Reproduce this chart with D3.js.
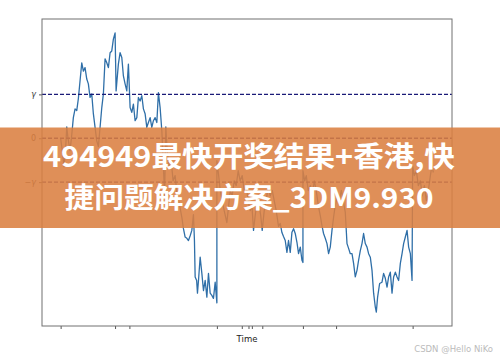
<!DOCTYPE html>
<html>
<head>
<meta charset="utf-8">
<script src="https://cdn.jsdelivr.net/npm/d3@7"></script>
<style>
  html, body { margin: 0; padding: 0; background: #fff; }
  svg { display: block; }
</style>
</head>
<body>
<div id="chart"></div>
<script>
// path of the process (time 0..100), vertical jumps repeat a time value
const times = [0, 0.51, 0.91, 1.32, 1.64, 1.99, 2.52, 2.93, 3.41, 3.87, 4.32, 4.75, 5.21, 5.67, 6.10, 6.55, 7.01, 7.44, 7.89, 8.35,
  8.78, 9.24, 9.69, 10.12, 10.58, 11.04, 11.47, 11.92, 12.38, 12.81, 13.27, 13.72, 14.15, 14.61, 14.88, 15.49, 15.95, 16.41, 16.84, 17.29,
  17.75, 18.18, 18.64, 19.09, 19.52, 19.98, 20.44, 20.86, 21.32, 21.78, 22.21, 22.66, 23.12, 23.55, 24.01, 24.46, 24.89, 25.35, 25.81, 26.23,
  26.69, 27.15, 27.50, 27.90, 28.22, 28.57, 29.11, 29.65, 30.18, 30.72, 31.26, 31.93, 32.52, 32.95, 33.40, 33.86, 34.29, 34.75, 35.20, 35.63,
  35.90, 36.09, 36.49, 36.71, 37.03, 37.43, 37.89, 38.32, 38.78, 39.23, 39.66, 40.12, 40.57, 41.00, 41.46, 41.92, 41.92, 42.40, 42.81, 43.34,
  43.88, 44.60, 45.09, 45.49, 46.03, 46.56, 47.10, 47.64, 48.17, 48.71, 49.25, 49.79, 50.32, 50.86, 51.32, 51.75, 52.20, 52.74, 53.28, 53.68,
  54.08, 54.62, 55.16, 55.69, 56.23, 56.77, 57.30, 57.84, 58.46, 58.92, 59.37, 59.80, 60.26, 60.71, 61.14, 61.60, 62.06, 62.49, 62.94, 63.40,
  63.83, 64.29, 64.74, 65.01, 65.01, 65.49, 65.90, 66.43, 66.97, 67.51, 68.05, 68.58, 69.12, 69.66, 70.11, 70.54, 71.00, 71.46, 71.89, 72.34,
  72.80, 73.23, 73.68, 74.22, 74.76, 75.30, 75.83, 76.37, 76.83, 77.26, 77.71, 78.17, 78.60, 79.05, 79.51, 79.94, 80.40, 80.85, 81.28, 81.74,
  82.20, 82.63, 83.08, 83.54, 83.97, 84.43, 84.70, 85.04, 85.58, 86.22, 86.65, 87.11, 87.57, 88.00, 88.45, 88.91, 89.34, 89.80, 90.25, 90.68,
  91.14, 91.60, 92.02, 92.48, 92.94, 93.37, 93.83, 94.28, 94.44, 94.90, 95.44, 95.97, 96.51, 97.05, 97.58, 98.12, 98.66, 99.20, 99.60, 100];
const values = [0, -0.33, -0.65, -0.28, 0.26, -0.01, -0.28, 0.03, 0.47, 0.67, 0.63, 0.90, 1.31, 1.72, 1.53, 1.61, 1.35, 1.24, 0.93, 1.01,
  0.56, 0.25, -0.06, -0.19, 0.25, 0.70, 1.01, 1.81, 1.72, 1.61, 1.95, 1.99, 2.26, 2.40, 1.08, 1.69, 1.95, 1.84, 1.42, 1.24,
  1.08, 1.69, 0.70, 0.59, 0.78, 0.40, 0.47, 0.93, 0.85, 0.97, 0.67, 0.56, 0.25, 0.36, 0.47, 0.25, 0.40, 0.47, 0.36, 1.04,
  0.70, 0.17, -0.51, -1.31, 0.26, -0.28, -0.63, -0.51, -0.97, -0.85, -1.31, -1.53, -1.80, -2.06, -2.25, -2.28, -2.33, -2.22, -2.10, -1.74,
  -2.33, -3.16, -3.24, -3.53, -3.19, -2.71, -3.08, -3.47, -3.24, -3.62, -3.08, -3.53, -3.58, -3.65, -3.28, -3.75, -0.51, -0.85, -1.19, -1.42,
  -1.65, -1.92, -1.53, -1.19, -1.31, -0.97, -1.08, -0.74, -0.97, -0.85, -1.19, -1.08, -1.42, -1.65, -1.53, -2.10, -1.76, -1.42, -1.53, -1.76,
  -2.10, -1.65, -1.42, -1.08, -1.31, -1.19, -1.42, -1.65, -2.01, -1.94, -2.15, -2.24, -2.33, -2.60, -2.33, -2.60, -2.14, -2.06, -2.17, -2.37,
  -2.63, -2.48, -2.78, -2.83, -0.74, -0.97, -0.85, -1.19, -1.08, -1.31, -0.97, -1.19, -1.53, -1.76, -1.99, -2.17, -2.28, -2.40, -2.63, -2.48,
  -2.10, -1.80, -1.53, -1.31, -1.42, -1.19, -1.42, -1.69, -2.40, -2.51, -2.63, -2.63, -2.85, -3.16, -3.01, -2.78, -2.56, -2.40, -2.17, -2.40,
  -2.48, -2.63, -2.71, -3.01, -3.53, -3.85, -3.96, -3.62, -3.31, -3.28, -3.08, -3.19, -3.39, -3.16, -3.05, -3.53, -3.16, -3.05, -3.16, -3.24,
  -2.85, -2.63, -2.40, -2.25, -2.10, -2.48, -2.63, -3.24, -0.63, -0.85, -0.74, -1.08, -0.97, -1.31, -1.08, -1.42, -1.19, -0.85, -0.63, -0.78];

const gamma = 1;
const thresholds = [gamma, 0, -gamma];
const thresholdLabels = ["γ", "0", "−γ"];
const eventTimes = [0, 14.6, 18.45, 41.92, 48.6, 50.4, 51.3, 54.1, 65.0, 73.9, 94.44];

const bannerLines = ["494949最快开奖结果+香港,快", "捷问题解决方案_3DM9.930"];
const bannerWidths = [412, 369];

const width = 500, height = 357;
const margin = { top: 19, right: 48, bottom: 31, left: 42 };

const svg = d3.select('#chart').append('svg')
  .attr('width', width)
  .attr('height', height);

// matplotlib style 5% margins
const xExt = d3.extent(times), yExt = d3.extent(values);
const xPad = (xExt[1] - xExt[0]) * 0.05, yPad = (yExt[1] - yExt[0]) * 0.05;

const x = d3.scaleLinear()
  .domain([xExt[0] - xPad, xExt[1] + xPad])
  .range([margin.left, width - margin.right]);
const y = d3.scaleLinear()
  .domain([yExt[0] - yPad, yExt[1] + yPad])
  .range([height - margin.bottom, margin.top]);

const pts = times.map((t, i) => [t, values[i]]);

svg.append('path')
  .datum(pts)
  .attr('fill', 'none')
  .attr('stroke', '#2f6fa8')
  .attr('stroke-width', 1.3)
  .attr('stroke-linejoin', 'round')
  .attr('d', d3.line().x(d => x(d[0])).y(d => y(d[1])));

// threshold lines
svg.selectAll('line.thr')
  .data(thresholds)
  .enter().append('line')
  .attr('class', 'thr')
  .attr('x1', x.range()[0]).attr('x2', x.range()[1])
  .attr('y1', d => y(d)).attr('y2', d => y(d))
  .attr('stroke', '#1a1a78')
  .attr('stroke-width', 1.3)
  .attr('stroke-dasharray', '4,2');

// axes
const xAxis = d3.axisBottom(x).tickValues(eventTimes).tickFormat('').tickSizeOuter(0).tickSize(3);
const gx = svg.append('g')
  .attr('transform', `translate(0,${y.range()[0]})`)
  .call(xAxis);
gx.select('.domain').remove();
gx.selectAll('.tick line').attr('stroke', '#555');

const yAxis = d3.axisLeft(y).tickValues(thresholds)
  .tickFormat((d, i) => thresholdLabels[i]).tickSize(3).tickSizeOuter(0);
const gy = svg.append('g')
  .attr('transform', `translate(${x.range()[0]},0)`)
  .call(yAxis);
gy.select('.domain').remove();
gy.selectAll('.tick line').attr('stroke', '#555');
gy.selectAll('.tick text')
  .attr('font-family', 'DejaVu Sans')
  .attr('font-size', 8)
  .attr('font-style', (d, i) => i === 1 ? 'normal' : 'italic')
  .attr('fill', '#333');

// frame
svg.append('rect')
  .attr('x', x.range()[0]).attr('y', y.range()[1])
  .attr('width', x.range()[1] - x.range()[0])
  .attr('height', y.range()[0] - y.range()[1])
  .attr('fill', 'none')
  .attr('stroke', '#707070')
  .attr('stroke-width', 1);

svg.append('text')
  .attr('x', (x.range()[0] + x.range()[1]) / 2)
  .attr('y', 342)
  .attr('text-anchor', 'middle')
  .attr('font-family', 'DejaVu Sans')
  .attr('font-size', 8.5)
  .attr('fill', '#222')
  .text('Time');

// overlay banner
svg.append('rect')
  .attr('x', 0).attr('y', 127.5)
  .attr('width', width).attr('height', 100.5)
  .attr('fill', 'rgb(219,127,65)')
  .attr('fill-opacity', 0.88);

svg.selectAll('text.banner')
  .data(bannerLines)
  .enter().append('text')
  .attr('class', 'banner')
  .attr('x', (d, i) => 249 - bannerWidths[i] / 2)
  .attr('y', (d, i) => 167 + i * 40.5)
  .attr('textLength', (d, i) => bannerWidths[i])
  .attr('lengthAdjust', 'spacingAndGlyphs')
  .attr('font-family', '"Noto Sans CJK SC", "Noto Sans", sans-serif')
  .attr('font-weight', 700)
  .attr('font-size', 28)
  .attr('fill', '#fff')
  .text(d => d);

svg.append('text')
  .attr('x', 493)
  .attr('y', 352)
  .attr('text-anchor', 'end')
  .attr('font-family', 'DejaVu Sans')
  .attr('font-size', 8.5)
  .attr('fill', '#bbb')
  .text('CSDN @Hello NiKo');
</script>
</body>
</html>
